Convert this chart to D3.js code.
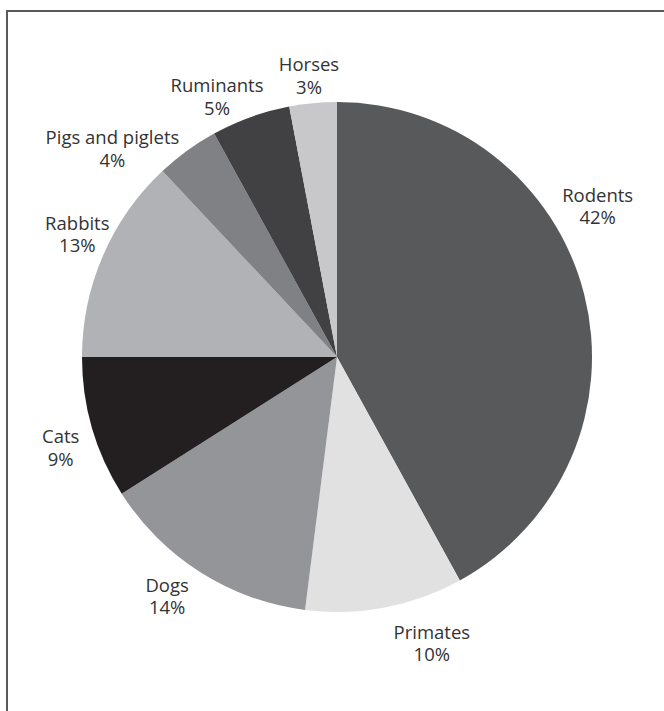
<!DOCTYPE html>
<html>
<head>
<meta charset="utf-8">
<script src="https://d3js.org/d3.v7.min.js"></script>
<style>
  html, body { margin: 0; padding: 0; background: #fff; }
  svg { display: block; }
</style>
</head>
<body>
<script>
var width = 664, height = 711;

// data
var categories = ["Rodents", "Primates", "Dogs", "Cats", "Rabbits", "Pigs and piglets", "Ruminants", "Horses"];
var values = [42, 10, 14, 9, 13, 4, 5, 3];
var colors = ["#58595b", "#e1e1e2", "#939598", "#231f20", "#b1b2b5", "#808184", "#414042", "#c8c8ca"];

// label placement (degrees clockwise from 12 o'clock, distance from centre)
var labelAngles = [60, 161.7, 215.3, 251.7, 295.2, 312.8, 335.2, 354.3];
var labelRadii = [301, 302, 294, 291, 287, 306, 286, 282];

var cx = 337, cy = 357, radius = 255;

var svg = d3.select("body").append("svg")
    .attr("width", width)
    .attr("height", height);

// frame (cropped on right and bottom)
svg.append("rect")
    .attr("x", 7)
    .attr("y", 11)
    .attr("width", width + 10)
    .attr("height", height + 10)
    .attr("fill", "none")
    .attr("stroke", "#5a5a5a")
    .attr("stroke-width", 2);

var pie = d3.pie().sort(null).value(d => d.value);
var arc = d3.arc().innerRadius(0).outerRadius(radius);

var data = categories.map((c, i) => ({ name: c, value: values[i], color: colors[i], la: labelAngles[i], lr: labelRadii[i] }));

var g = svg.append("g").attr("transform", `translate(${cx},${cy})`);

g.selectAll("path")
    .data(pie(data))
    .enter().append("path")
    .attr("d", arc)
    .attr("fill", d => d.data.color);

var labels = g.selectAll("text.lbl")
    .data(data)
    .enter().append("text")
    .attr("class", "lbl")
    .attr("text-anchor", "middle")
    .attr("transform", d => {
        var a = d.la * Math.PI / 180;
        return `translate(${d.lr * Math.sin(a)},${-d.lr * Math.cos(a)})`;
    })
    .style("font-family", "'Open Sans', 'Noto Sans', sans-serif")
    .style("font-size", "18.5px")
    .style("fill", "#333333");

labels.append("tspan")
    .attr("x", 0)
    .attr("y", -5)
    .text(d => d.name);

labels.append("tspan")
    .attr("x", 0)
    .attr("y", 17.5)
    .text(d => d.value + "%");
</script>
</body>
</html>
